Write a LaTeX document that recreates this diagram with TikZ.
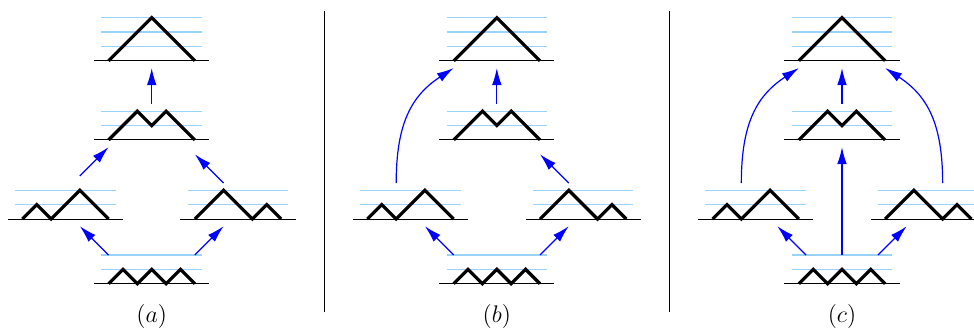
\documentclass[tikz,border=0pt]{standalone}
\usepackage{tikz}
\usetikzlibrary{arrows.meta}
\definecolor{LevelBlue}{HTML}{99D3F7}
\definecolor{MoveBlue}{HTML}{0000FF}
\tikzset{
  level line/.style={LevelBlue, line width=0.6pt},
  ground line/.style={black, line width=0.5pt},
  dyck line/.style={black, line width=1.6pt, line join=miter},
  move arr/.style={-{Latex[length=8.5pt,width=4.8pt]}, MoveBlue, line width=0.6pt},
  panel label/.style={font=\large, inner sep=0pt},
  pics/dyck/.style 2 args={code={
    \foreach \k in {1,...,#1}
      \draw[level line] (-0.5,\k) -- (6.5,\k);
    \draw[ground line] (-1,0) -- (7,0);
    \draw[dyck line] (0,0) \foreach \s in {#2} { -- ++(1,\s) };
  }}
}

\begin{document}
\begin{tikzpicture}[x=0.2527cm, y=0.2527cm]
  \useasboundingbox (-10.55,-3.29) rectangle (57.18,19.73);

  % the same five paths in every panel
  \foreach \p/\dx in {a/0,b/24,c/48}{
    \begin{scope}[shift={(\dx,0)}]
      \pic at (-3,0)    {dyck={2}{1,-1,1,-1,1,-1}};
      \pic at (-9,4.5)  {dyck={2}{1,-1,1,1,-1,-1}};
      \pic at (3,4.5)   {dyck={2}{1,1,-1,-1,1,-1}};
      \pic at (-3,10)   {dyck={2}{1,1,-1,1,-1,-1}};
      \pic at (-3,15.5) {dyck={3}{1,1,1,-1,-1,-1}};
      \node[panel label] (lab-\p) at (0,-2.3) {$(\p)$};

      \coordinate (\p-low-l) at (-3,2);
      \coordinate (\p-low-r) at (3,2);
      \coordinate (\p-low-m) at (0,2);
      \coordinate (\p-left-in) at (-5,4);
      \coordinate (\p-right-in) at (5,4);
      \coordinate (\p-left-out) at (-5,7.5);
      \coordinate (\p-right-out) at (5,7);
      \coordinate (\p-left-arc) at (-7,7);
      \coordinate (\p-right-arc) at (7,7);
      \coordinate (\p-mid-in) at (0,9.5);
      \coordinate (\p-mid-inl) at (-3,9.5);
      \coordinate (\p-mid-inr) at (3,9);
      \coordinate (\p-mid-out) at (0,12.5);
      \coordinate (\p-top-in) at (0,15);
      \coordinate (\p-top-inl) at (-3,15);
      \coordinate (\p-top-inr) at (3,15);
    \end{scope}
  }
  \coordinate (c-low-l2) at (45.5,2);
  \coordinate (c-low-r2) at (50.5,2);
  \coordinate (c-left-in2) at (43.5,4);
  \coordinate (c-right-in2) at (52.5,4);

  % separators
  \draw[line width=0.5pt] (12,-2) -- (12,19);
  \draw[line width=0.5pt] (36,-2) -- (36,19);

  % (a)
  \draw[move arr] (a-low-l) -- (a-left-in);
  \draw[move arr] (a-low-r) -- (a-right-in);
  \draw[move arr] (a-left-out) -- (a-mid-inl);
  \draw[move arr] (a-right-out) -- (a-mid-inr);
  \draw[move arr] (a-mid-out) -- (a-top-in);

  % (b)
  \draw[move arr] (b-low-l) -- (b-left-in);
  \draw[move arr] (b-low-r) -- (b-right-in);
  \draw[move arr] (b-left-arc) .. controls +(0,4.2) and +(-2.9,-1.9) .. (b-top-inl);
  \draw[move arr] (b-right-out) -- (b-mid-inr);
  \draw[move arr] (b-mid-out) -- (b-top-in);

  % (c)
  \draw[move arr] (c-low-l2) -- (c-left-in2);
  \draw[move arr] (c-low-r2) -- (c-right-in2);
  \draw[move arr] (c-low-m) -- (c-mid-in);
  \draw[move arr] (c-left-arc) .. controls +(0,4.2) and +(-2.9,-1.9) .. (c-top-inl);
  \draw[move arr] (c-right-arc) .. controls +(0,4.2) and +(2.9,-1.9) .. (c-top-inr);
  \draw[move arr] (c-mid-out) -- (c-top-in);
\end{tikzpicture}
\end{document}
